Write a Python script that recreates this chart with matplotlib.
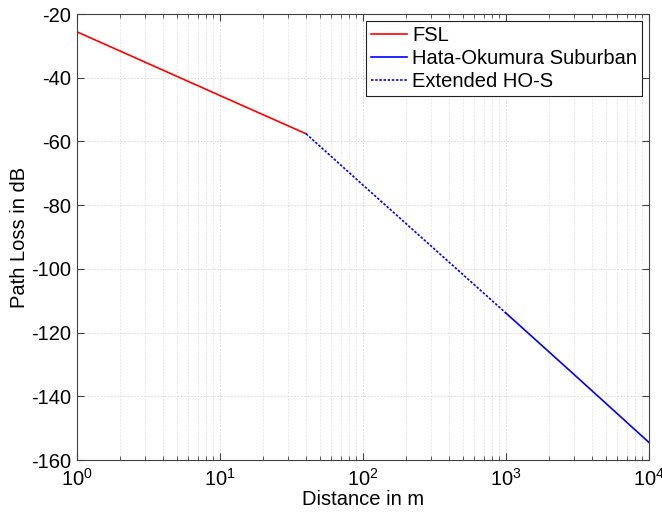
import numpy as np
import matplotlib
matplotlib.use('Agg')
import matplotlib.pyplot as plt
from matplotlib.ticker import LogLocator, NullFormatter

plt.rcParams['font.family'] = ['Liberation Sans', 'DejaVu Sans']
plt.rcParams['axes.unicode_minus'] = False
plt.rcParams['mathtext.fontset'] = 'custom'
plt.rcParams['mathtext.rm'] = 'Liberation Sans'

# distances (m) and path loss (dB)
fsl_d = [1, 10, 40]
fsl_pl = [-25.6, -45.6, -57.6]

ext_d = [40, 100, 1000]
ext_pl = [-57.6, -73.7, -113.9]

hata_d = [1000, 3000, 10000]
hata_pl = [-113.9, -133.2, -154.5]

yticks = [-160, -140, -120, -100, -80, -60, -40, -20]

fig = plt.figure(figsize=(6.62, 5.16), dpi=100)
ax = fig.add_axes([77/662, 1 - 460/516, 572/662, 446/516])

ax.semilogx(fsl_d, fsl_pl, color='#ff0000', lw=1.2, label='FSL')
ax.semilogx(hata_d, hata_pl, color='#0000ff', lw=1.2, label='Hata-Okumura Suburban')
ax.semilogx(ext_d, ext_pl, color='#0000ff', lw=1.2, ls=(0, (1.5, 1)), label='Extended HO-S')

ax.set_xlim(1, 1e4)
ax.set_ylim(-160, -20)
ax.set_yticks(yticks)
ax.xaxis.set_minor_locator(LogLocator(base=10, subs=np.arange(2, 10)))
ax.xaxis.set_minor_formatter(NullFormatter())

ax.grid(True, which='major', color='#d4d4d4', ls=(0, (2, 2)), lw=0.6)
ax.grid(True, which='minor', axis='x', color='#dedede', ls=(0, (2, 2)), lw=0.6)

ax.tick_params(which='both', direction='in', top=True, right=True, labelsize=14.5, color='#404040')
ax.tick_params(which='major', length=5)
ax.tick_params(which='minor', length=3)
ax.tick_params(axis='x', pad=6)
ax.tick_params(axis='y', pad=4)
for s in ax.spines.values():
    s.set_color('#404040')
    s.set_linewidth(0.8)

ax.set_xlabel('Distance in m', fontsize=14.5, labelpad=0)
ax.set_ylabel('Path Loss in dB', fontsize=14.5, labelpad=2)

leg = ax.legend(loc='upper right', fontsize=14.5, fancybox=False, framealpha=1,
                edgecolor='#202020', borderpad=0.25, labelspacing=0.2,
                handlelength=1.8, handletextpad=0.25, borderaxespad=0.35)
leg.get_frame().set_linewidth(0.8)

fig.savefig('out.png', dpi=100)
